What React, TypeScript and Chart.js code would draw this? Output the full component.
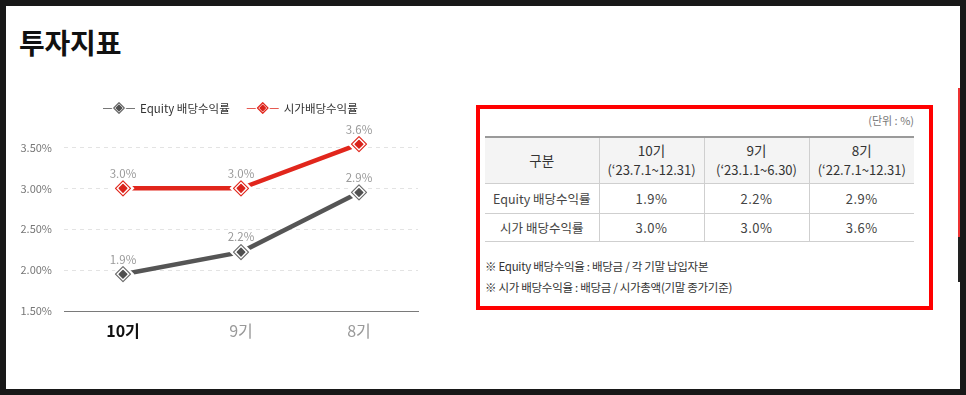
import React, { useEffect, useRef } from "react";
import { Chart, registerables } from "chart.js";

Chart.register(...registerables);

const FONT = "'Noto Sans CJK KR', 'Noto Sans', sans-serif";

// ---- data ----
const categories = ["10기", "9기", "8기"];
const seriesNames = ["Equity 배당수익률", "시가배당수익률"];
const equityValues = [1.95, 2.22, 2.95];
const marketValues = [3.0, 3.0, 3.54];
const equityLabels = ["1.9%", "2.2%", "2.9%"];
const marketLabels = ["3.0%", "3.0%", "3.6%"];
const yMin = 1.5;
const yMax = 3.75;
const yStep = 0.5;
const yTopTick = 3.5;

// ---- table data ----
const tableHeadLabel = "구분";
const tablePeriods = ["10기", "9기", "8기"];
const tableRanges = ["(‘23.7.1~12.31)", "(‘23.1.1~6.30)", "(‘22.7.1~12.31)"];
const tableRowNames = ["Equity 배당수익률", "시가 배당수익률"];
const tableEquity = ["1.9%", "2.2%", "2.9%"];
const tableMarket = ["3.0%", "3.0%", "3.6%"];
const unitText = "(단위 : %)";
const notes = [
  "※ Equity 배당수익율 : 배당금 / 각 기말 납입자본",
  "※ 시가 배당수익율 : 배당금 / 시가총액(기말 종가기준)",
];

const STYLES = [
  { line: "#555555", ring: "#6a6a6a", fill: "#505050", legendLine: "#777777" },
  { line: "#e1261c", ring: "#e1261c", fill: "#d9231b", legendLine: "#e65a52" },
];
const pointLabels = [equityLabels, marketLabels];

function diamond(ctx: CanvasRenderingContext2D, x: number, y: number, d: number) {
  ctx.beginPath();
  ctx.moveTo(x, y - d);
  ctx.lineTo(x + d, y);
  ctx.lineTo(x, y + d);
  ctx.lineTo(x - d, y);
  ctx.closePath();
}

function drawMarker(ctx: CanvasRenderingContext2D, x: number, y: number, s: any, scale: number) {
  ctx.save();
  ctx.lineJoin = "round";
  diamond(ctx, x, y, 7.5 * scale);
  ctx.lineWidth = 1.2;
  ctx.strokeStyle = s.ring;
  ctx.stroke();
  diamond(ctx, x, y, 3.8 * scale);
  ctx.fillStyle = s.fill;
  ctx.fill();
  ctx.lineWidth = 1.4;
  ctx.strokeStyle = s.fill;
  ctx.stroke();
  ctx.restore();
}

const markerPlugin = {
  id: "diamondMarkers",
  afterDatasetsDraw(chart: any) {
    const ctx: CanvasRenderingContext2D = chart.ctx;
    const metas = chart.data.datasets.map((_: any, i: number) => chart.getDatasetMeta(i));
    metas.forEach((meta: any) => {
      meta.data.forEach((pt: any) => {
        ctx.save();
        ctx.lineJoin = "round";
        diamond(ctx, pt.x, pt.y, 11.5);
        ctx.fillStyle = "#ffffff";
        ctx.fill();
        ctx.restore();
      });
    });
    metas.forEach((meta: any, i: number) => {
      meta.data.forEach((pt: any, j: number) => {
        drawMarker(ctx, pt.x, pt.y, STYLES[i], 1);
        ctx.save();
        ctx.font = `11.5px ${FONT}`;
        ctx.fillStyle = "#9a9a9a";
        ctx.textAlign = "center";
        ctx.textBaseline = "middle";
        ctx.fillText(pointLabels[i][j], pt.x, pt.y - 15);
        ctx.restore();
      });
    });
  },
  afterDraw(chart: any) {
    const ctx: CanvasRenderingContext2D = chart.ctx;
    let x = 89;
    const y = 37;
    ctx.save();
    ctx.font = `11.5px ${FONT}`;
    seriesNames.forEach((name, i) => {
      const s = STYLES[i];
      ctx.beginPath();
      ctx.moveTo(x, y + 0.5);
      ctx.lineTo(x + 32, y + 0.5);
      ctx.lineWidth = 1;
      ctx.strokeStyle = s.legendLine;
      ctx.stroke();
      diamond(ctx, x + 16, y, 7.5);
      ctx.fillStyle = "#fff";
      ctx.fill();
      drawMarker(ctx, x + 16, y, s, 0.7);
      ctx.fillStyle = "#333";
      ctx.textAlign = "left";
      ctx.textBaseline = "middle";
      ctx.fillText(name, x + 37, y + 1);
      x += 37 + ctx.measureText(name).width + 17;
    });
    ctx.restore();
  },
};

function LineChart() {
  const ref = useRef<HTMLCanvasElement>(null);
  useEffect(() => {
    if (!ref.current) return;
    const chart = new Chart(ref.current, {
      type: "line",
      data: {
        labels: categories,
        datasets: [
          {
            label: seriesNames[0],
            data: equityValues,
            borderColor: STYLES[0].line,
            borderWidth: 4.5,
            pointRadius: 0,
            pointHoverRadius: 0,
            tension: 0,
            clip: false as any,
          },
          {
            label: seriesNames[1],
            data: marketValues,
            borderColor: STYLES[1].line,
            borderWidth: 4.5,
            pointRadius: 0,
            pointHoverRadius: 0,
            tension: 0,
            clip: false as any,
          },
        ],
      },
      options: {
        animation: false,
        responsive: false,
        events: [],
        layout: { padding: { top: 56, right: 6, left: 0, bottom: 0 } },
        plugins: { legend: { display: false }, tooltip: { enabled: false } },
        scales: {
          x: {
            offset: true,
            grid: { display: false, drawTicks: false },
            border: { display: true, color: "#7a7a7a", width: 1 },
            ticks: {
              padding: 10,
              font: (c: any) => ({ size: 16, weight: c.index === 0 ? "bold" : "normal", family: FONT }),
              color: (c: any) => (c.index === 0 ? "#111111" : "#999999"),
            },
            afterFit: (s: any) => {
              s.height = 40;
            },
          },
          y: {
            min: yMin,
            max: yMax,
            ticks: {
              stepSize: yStep,
              padding: 12,
              color: "#777777",
              font: { size: 11, family: FONT },
              callback: (v: any) => Number(v).toFixed(2) + "%",
            },
            grid: {
              drawTicks: false,
              color: (c: any) => (c.tick && Math.abs(c.tick.value - yMin) < 1e-6 ? "rgba(0,0,0,0)" : "#e3e3e3"),
            },
            border: { display: false, dash: [4, 4] },
            afterBuildTicks: (s: any) => {
              s.ticks = s.ticks.filter((t: any) => t.value <= yTopTick + 1e-6);
            },
            afterFit: (s: any) => {
              s.width = 50;
            },
          },
        },
      } as any,
      plugins: [markerPlugin],
    });
    return () => chart.destroy();
  }, []);
  return <canvas ref={ref} width={410} height={280} style={{ position: "absolute", left: 14, top: 71 }} />;
}

const cellBase: React.CSSProperties = {
  borderLeft: "1px solid #cfcfcf",
  textAlign: "center",
  padding: 0,
};

export default function App() {
  return (
    <div
      style={{
        position: "fixed",
        left: 0,
        top: 0,
        width: 966,
        height: 395,
        background: "#181818",
        overflow: "hidden",
        fontFamily: FONT,
      }}
    >
      <div style={{ position: "absolute", left: 6, top: 6, width: 954, height: 383, background: "#fff" }} />
      <div style={{ position: "absolute", left: 958, top: 88, width: 2, height: 149, background: "#e33" }} />
      <div style={{ position: "absolute", left: 958, top: 237, width: 2, height: 45, background: "#222" }} />
      <div
        style={{
          position: "absolute",
          left: 19,
          top: 26,
          fontSize: 28,
          fontWeight: 700,
          lineHeight: "32px",
          color: "#111",
          letterSpacing: -0.2,
        }}
      >
        투자지표
      </div>
      <LineChart />
      <div
        style={{
          position: "absolute",
          left: 476,
          top: 105,
          width: 457,
          height: 205,
          border: "4px solid #ff0000",
          boxSizing: "border-box",
        }}
      />
      <div
        style={{
          position: "absolute",
          left: 814,
          top: 112,
          width: 100,
          textAlign: "right",
          fontSize: 11,
          lineHeight: "16px",
          color: "#777",
        }}
      >
        {unitText}
      </div>
      <table
        style={{
          position: "absolute",
          left: 485,
          top: 136,
          width: 429,
          borderCollapse: "collapse",
          tableLayout: "fixed",
          color: "#444",
          fontSize: 13,
        }}
      >
        <colgroup>
          <col style={{ width: 114 }} />
          <col style={{ width: 105 }} />
          <col style={{ width: 105 }} />
          <col style={{ width: 105 }} />
        </colgroup>
        <tbody>
          <tr style={{ height: 46, background: "#f4f4f4", borderTop: "2px solid #9a9a9a", borderBottom: "1px solid #cfcfcf" }}>
            <td style={{ ...cellBase, borderLeft: "none", color: "#333", fontSize: 13.5 }}>{tableHeadLabel}</td>
            {tablePeriods.map((p, i) => (
              <td key={p} style={{ ...cellBase, color: "#333", lineHeight: "19px", fontSize: 13.5 }}>
                <div>{p}</div>
                <div style={{ fontSize: 13 }}>{tableRanges[i]}</div>
              </td>
            ))}
          </tr>
          <tr style={{ height: 30, borderBottom: "1px solid #cfcfcf" }}>
            <td style={{ ...cellBase, borderLeft: "none", fontSize: 12.5 }}>{tableRowNames[0]}</td>
            {tableEquity.map((v, i) => (
              <td key={i} style={{ ...cellBase, letterSpacing: 0.5 }}>{v}</td>
            ))}
          </tr>
          <tr style={{ height: 28, borderBottom: "1px solid #cfcfcf" }}>
            <td style={{ ...cellBase, borderLeft: "none", fontSize: 12.5 }}>{tableRowNames[1]}</td>
            {tableMarket.map((v, i) => (
              <td key={i} style={{ ...cellBase, letterSpacing: 0.5 }}>{v}</td>
            ))}
          </tr>
        </tbody>
      </table>
      {notes.map((n, i) => (
        <div
          key={i}
          style={{
            position: "absolute",
            left: 485,
            top: 258 + i * 21,
            fontSize: 11.5,
            lineHeight: "16px",
            color: "#333",
            whiteSpace: "nowrap",
            letterSpacing: -0.3,
          }}
        >
          {n}
        </div>
      ))}
    </div>
  );
}
